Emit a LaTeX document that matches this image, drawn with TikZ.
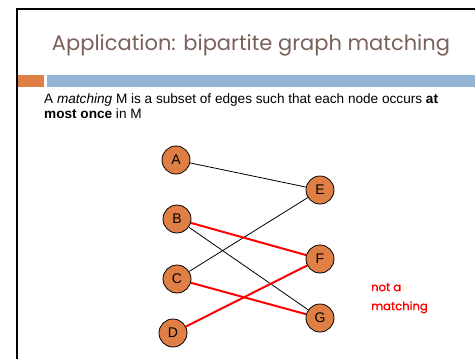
\documentclass[tikz,border=0pt]{standalone}
\usepackage{fontspec}
\setmainfont{Liberation Sans}
\newfontfamily\titlefont{Poppins}
\newfontfamily\notefont[FakeBold=1.2]{Poppins}
\begin{document}
\begin{tikzpicture}[x=1pt,y=-1pt,
  vtx/.style={circle,draw=black,line width=0.8pt,fill=nodeorange,minimum size=28pt,inner sep=0pt,font=\fontsize{14}{16}\selectfont},
  plain/.style={draw=black,line width=0.8pt},
  redm/.style={draw=red,line width=2pt}]
\definecolor{nodeorange}{HTML}{E07F45}
\definecolor{titlecol}{HTML}{7A625A}
\definecolor{barblue}{HTML}{93B4D2}
\definecolor{barorange}{HTML}{E07F45}
\useasboundingbox (0,0) rectangle (475,359);
\fill[white] (0,0) rectangle (475,359);
\draw[line width=2.5pt] (17,360) -- (17,9) -- (476,9);
\node[text=titlecol,font=\titlefont\fontsize{21}{24}\selectfont] (title) at (251,45) {Application: bipartite graph matching};
\fill[barorange] (18,75) rectangle (44,87);
\fill[barblue] (47,75) rectangle (475,87);
\node[anchor=north west,align=left,font=\fontsize{13.6}{15}\selectfont,inner sep=0pt] (txt) at (44,93)
  {A \textit{matching} M is a subset of edges such that each node occurs \textbf{at}\\ \textbf{most once} in M};
\node[vtx] (A) at (176,160) {A};
\node[vtx] (B) at (177,219) {B};
\node[vtx] (C) at (177,279) {C};
\node[vtx] (D) at (173,333) {D};
\node[vtx] (E) at (320,190) {E};
\node[vtx] (F) at (320,259) {F};
\node[vtx] (G) at (320,318) {G};
\node[text=red,align=left,anchor=north west,inner sep=0pt,font=\notefont\fontsize{11.6}{19}\selectfont] (nm) at (371,283) {not a\\matching};
\draw[plain] (A) -- (E);
\draw[plain] (C) -- (E);
\draw[plain] (B) -- (G);
\draw[redm] (B) -- (F);
\draw[redm] (C) -- (G);
\draw[redm] (D) -- (F);
\end{tikzpicture}
\end{document}
